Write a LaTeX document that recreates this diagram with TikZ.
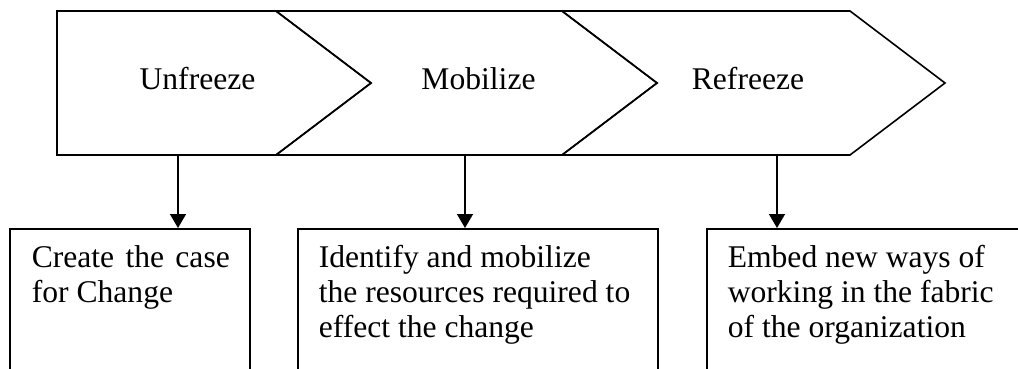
\documentclass[tikz,border=0pt]{standalone}
\usepackage{fontspec}
\setmainfont{Liberation Serif}
\usetikzlibrary{arrows.meta}
\begin{document}
\begin{tikzpicture}[x=1pt,y=-1pt,line width=1.6pt,line join=miter,
  chev/.style={draw,line width=1.6pt},
  lbl/.style={font=\fontsize{31.6}{35.5}\selectfont,inner sep=0pt,anchor=base},
  boxtxt/.style={font=\fontsize{31.6}{35.3}\selectfont,inner sep=0pt,align=left,anchor=base west},
  stepbox/.style={draw,line width=1.6pt,minimum height=220pt,anchor=north west,inner sep=0pt},
  conn/.style={-{Triangle[width=16pt,length=14pt]},line width=1.6pt}]
\clip (0,0) rectangle (1018,369);
% chevrons
\draw[chev] (57,11) -- (276,11) -- (371,83) -- (276,155) -- (57,155) -- cycle;
\draw[chev] (276,11) -- (562,11) -- (657,83) -- (562,155) -- (276,155) -- (371,83) -- cycle;
\draw[chev] (562,11) -- (850,11) -- (945,83) -- (850,155) -- (562,155) -- (657,83) -- cycle;
\node[lbl] (u) at (197.5,89) {Unfreeze};
\node[lbl] (m) at (478.5,89) {Mobilize};
\node[lbl] (r) at (748,89) {Refreeze};
\coordinate (s1) at (178,155);
\coordinate (s2) at (465,155);
\coordinate (s3) at (777,155);
% boxes
\node[stepbox,minimum width=240pt] (b1) at (9,228) {};
\node[stepbox,minimum width=360pt] (b2) at (297,228) {};
\node[stepbox,minimum width=360pt] (b3) at (706,228) {};
% text nodes anchored at the baseline of their last line
\node[boxtxt] (t1) at (31,302.3) {\makebox[198pt][s]{Create the case}\\for Change};
\node[boxtxt] (t2) at (318,337.6) {Identify and mobilize\\the resources required to\\effect the change};
\node[boxtxt] (t3) at (727,337.6) {Embed new ways of\\working in the fabric\\of the organization};
% connectors
\draw[conn] (s1) -- (s1 |- b1.north);
\draw[conn] (s2) -- (s2 |- b2.north);
\draw[conn] (s3) -- (s3 |- b3.north);
\end{tikzpicture}
\end{document}
